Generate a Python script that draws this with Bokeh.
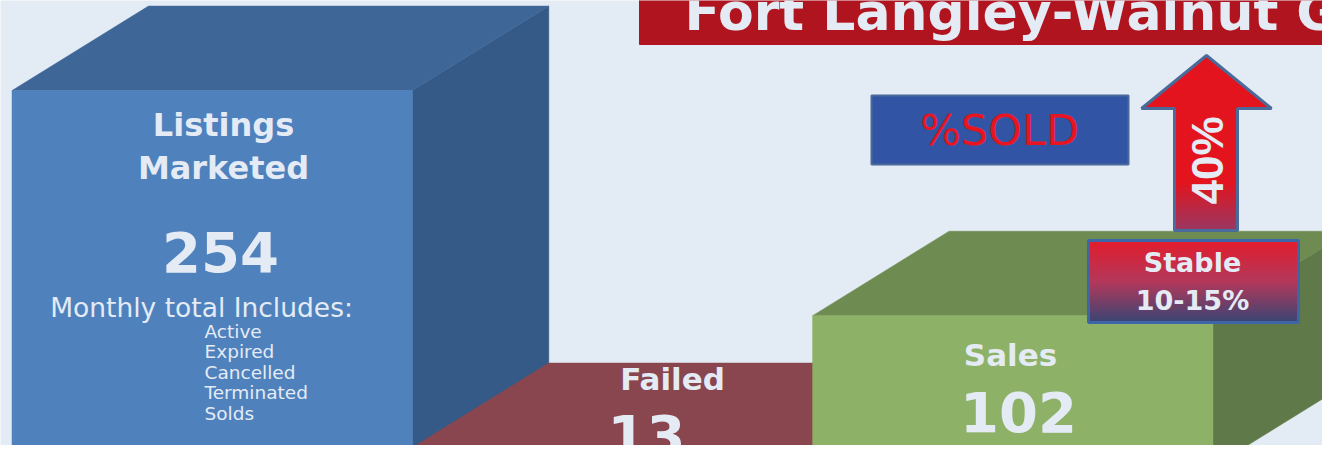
import numpy as np
from bokeh.plotting import figure
from bokeh.models import Range1d
from bokeh.core.properties import value
from bokeh.embed import file_html
from bokeh.resources import INLINE

# ---------------- data ----------------
categories = ["Listings Marketed", "Failed", "Sales"]
counts = [254, 13, 102]
pct_sold = 40
stable_range = "10-15%"
stable_label = "Stable"
sold_label = "%SOLD"
title = "Fort Langley-Walnut Grove"
includes_title = "Monthly total Includes:"
includes_items = ["Active", "Expired", "Cancelled", "Terminated", "Solds"]

# ---------------- layout / style ----------------
BG = "#e3ebf4"
BASE = 466.3          # baseline (screen px, y grows downward)
SCALE = 1.4813        # px per listing
X0, W = 11.5, 400.3   # front face left edge, width
DX, DY = 136.5, -84.5 # depth offset
front_cols = ["#4f81bd", "#b0545a", "#8eb168"]
top_cols = ["#3e6798", "#8a464e", "#6e8c52"]
side_cols = ["#365a87", "#7a3c44", "#5f7a48"]
TXT = "#e4ebf4"
BOLD = "DejaVu Sans"

p = figure(width=1322, height=445, x_range=Range1d(0, 1322), y_range=Range1d(445, 0),
           min_border=0, toolbar_location=None, output_backend="svg",
           x_axis_type=None, y_axis_type=None)
p.grid.visible = False
p.outline_line_color = None
p.background_fill_color = BG
p.border_fill_color = BG

# ---------------- 3D boxes ----------------
for i, (cat, n) in enumerate(zip(categories, counts)):
    xl = X0 + i * W
    xr = xl + W
    top = BASE - n * SCALE
    p.patch([xr, xr + DX, xr + DX, xr], [top, top + DY, BASE + DY, BASE],
            fill_color=side_cols[i], line_color=side_cols[i], line_width=0.5)
    p.patch([xl, xl + DX, xr + DX, xr], [top, top + DY, top + DY, top],
            fill_color=top_cols[i], line_color=top_cols[i], line_width=0.5)
    p.quad(left=[xl], right=[xr], top=[top], bottom=[BASE + 10],
           fill_color=front_cols[i], line_color=front_cols[i], line_width=0.5)

# ---------------- box labels ----------------
bold_label = dict(text_font=value(BOLD), text_font_style="bold",
                  text_color=TXT, text_align="center", text_baseline="middle")
num_style = dict(text_font=value(BOLD), text_font_style="bold",
                 text_color=TXT, text_align="center", text_baseline="middle",
                 text_font_size="56px")

words = categories[0].split(" ")
p.text(x=[223, 223], y=[124, 167], text=words, text_font_size="32px", **bold_label)
p.text(x=[220], y=[251], text=[str(counts[0])], **num_style)
p.text(x=[201], y=[307], text=[includes_title], text_font=value("DejaVu Sans"),
       text_font_size="26.5px", text_color=TXT, text_align="center", text_baseline="middle")
p.text(x=[204] * len(includes_items), y=[331 + 20.4 * k for k in range(len(includes_items))],
       text=includes_items, text_font=value("DejaVu Sans"), text_font_size="18.5px",
       text_color=TXT, text_align="left", text_baseline="middle")

p.text(x=[672], y=[378], text=[categories[1]], text_font_size="31px", **bold_label)
p.text(x=[646], y=[434], text=[str(counts[1])], **num_style)

p.text(x=[1010], y=[354], text=[categories[2]], text_font_size="31px", **bold_label)
p.text(x=[1018], y=[411], text=[str(counts[2])], **num_style)

# ---------------- title bar ----------------
p.quad(left=[639], right=[1340], top=[-5], bottom=[44], fill_color="#b0151f", line_color="#b0151f")
p.text(x=[684], y=[11], text=[title], text_font=value(BOLD), text_font_style="bold",
       text_font_size="52px", text_color=TXT, text_align="left", text_baseline="middle")

# ---------------- %SOLD box ----------------
p.quad(left=[871], right=[1128], top=[95], bottom=[164], fill_color="#3154a4",
       line_color="#4a6a9c", line_width=2)
p.text(x=[999], y=[129], text=[sold_label], text_font=value("DejaVu Sans"),
       text_font_size="43px", text_color="#e8141f", text_align="center", text_baseline="middle")

# ---------------- arrow ----------------
ax = [1206, 1271, 1237, 1237, 1174, 1174, 1141]
ay = [55, 108, 108, 230, 230, 108, 108]
p.patch(ax, ay, fill_color="#e3141e", line_color=None)
g0, g1 = 182, 230
steps = 24
ys = np.linspace(g0, g1, steps + 1)
c_top = np.array([0xe3, 0x14, 0x1e])
c_bot = np.array([0x9a, 0x38, 0x62])
cols = []
for k in range(steps):
    t = (k + 0.5) / steps
    c = (c_top * (1 - t) + c_bot * t).astype(int)
    cols.append("#%02x%02x%02x" % tuple(c))
p.quad(left=[1174] * steps, right=[1237] * steps, top=list(ys[:-1]), bottom=list(ys[1:]),
       fill_color=cols, line_color=cols, line_width=1)
p.patch(ax, ay, fill_alpha=0, line_color="#4a6a9a", line_width=3)
p.text(x=[1207], y=[160], text=[f"{pct_sold}%"], angle=np.pi / 2,
       text_font=value("Liberation Sans"), text_font_style="bold", text_font_size="44px",
       text_color=TXT, text_align="center", text_baseline="middle")

# ---------------- Stable box ----------------
sy0, sy1 = 240, 322
steps = 41
ys = np.linspace(sy0, sy1, steps + 1)
stops = [(0.0, (0xe3, 0x1c, 0x2c)), (0.5, (0xb5, 0x38, 0x5a)), (1.0, (0x3a, 0x45, 0x74))]
cols = []
for k in range(steps):
    t = (k + 0.5) / steps
    for (t0, ca), (t1, cb) in zip(stops[:-1], stops[1:]):
        if t0 <= t <= t1:
            u = (t - t0) / (t1 - t0)
            c = [int(a * (1 - u) + b * u) for a, b in zip(ca, cb)]
            break
    cols.append("#%02x%02x%02x" % tuple(c))
p.quad(left=[1088] * steps, right=[1298] * steps, top=list(ys[:-1]), bottom=list(ys[1:]),
       fill_color=cols, line_color=cols, line_width=1)
p.quad(left=[1088], right=[1298], top=[sy0], bottom=[sy1], fill_alpha=0,
       line_color="#3d66a8", line_width=3)
p.text(x=[1192, 1192], y=[262, 300], text=[stable_label, stable_range],
       text_font_size="27px", **bold_label)

open("out.html", "w").write(file_html(p, INLINE))
